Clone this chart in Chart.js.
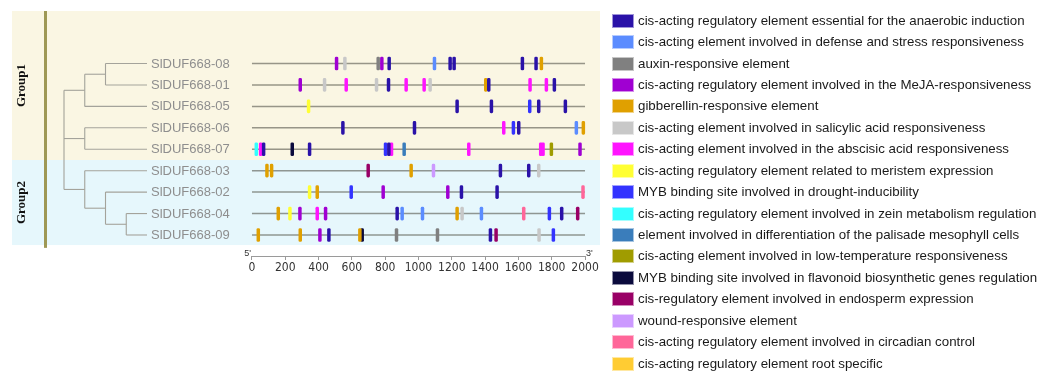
<!DOCTYPE html>
<html>
<head>
<meta charset="utf-8">
<script src="https://cdn.jsdelivr.net/npm/chart.js@4/dist/chart.umd.min.js"></script>
<style>
  html, body { margin: 0; padding: 0; background: #ffffff; }
  #wrap { position: relative; width: 1053px; height: 371px; overflow: hidden; }
  #c { position: absolute; left: 0; top: 0; }
  #legend { position: absolute; left: 612px; top: 0; font: 13.3px "Liberation Sans", Arial, sans-serif; color: #1a1a1a; }
  .item { position: absolute; left: 0; height: 14px; white-space: nowrap; }
  .box { position: absolute; left: 0; top: 0; width: 22px; height: 14px; box-sizing: border-box; border: 1px solid rgba(255,255,255,0.55); }
  .txt { position: absolute; left: 26px; top: -1px; line-height: 16px; }
</style>
</head>
<body>
<div id="wrap">
  <canvas id="c" width="1053" height="371"></canvas>
  <div id="legend"></div>
</div>
<script>
// Genes, top to bottom in tree order
const genes = ['SlDUF668-08', 'SlDUF668-01', 'SlDUF668-05', 'SlDUF668-06', 'SlDUF668-07',
               'SlDUF668-03', 'SlDUF668-02', 'SlDUF668-04', 'SlDUF668-09'];

// Tree topology over gene indices
const treeTopology = [[[0, 1], 2], [3, 4], [5, [6, [7, 8]]]];

// Clades: label, first and last gene index
const groupNames = ['Group1', 'Group2'];
const groupFirst = [0, 5];
const groupLast = [4, 8];

// Cis-acting element types and their colours
const elementTypes = [
  'cis-acting regulatory element essential for the anaerobic induction',
  'cis-acting element involved in defense and stress responsiveness',
  'auxin-responsive element',
  'cis-acting regulatory element involved in the MeJA-responsiveness',
  'gibberellin-responsive element',
  'cis-acting element involved in salicylic acid responsiveness',
  'cis-acting element involved in the abscisic acid responsiveness',
  'cis-acting regulatory element related to meristem expression',
  'MYB binding site involved in drought-inducibility',
  'cis-acting regulatory element involved in zein metabolism regulation',
  'element involved in differentiation of the palisade mesophyll cells',
  'cis-acting element involved in low-temperature responsiveness',
  'MYB binding site involved in flavonoid biosynthetic genes regulation',
  'cis-regulatory element involved in endosperm expression',
  'wound-responsive element',
  'cis-acting regulatory element involved in circadian control',
  'cis-acting regulatory element root specific'
];
const typeColors = [
  '#2a12a8', '#5b8cff', '#808080', '#a000d2', '#e0a000', '#c8c8c8', '#ff14ff', '#ffff33',
  '#3333ff', '#33ffff', '#3a7dbb', '#a09c00', '#0a0a3c', '#990066', '#cc99ff', '#ff6699', '#ffcc33'
];

// Promoter sites per gene: [position (bp from 5'), element type index]
const sites08 = [[508,3],[558,5],[758,2],[780,3],[824,0],[1096,1],[1190,0],[1214,0],[1624,0],[1706,0],[1738,4]];
const sites01 = [[290,3],[436,5],[566,6],[748,5],[820,0],[926,6],[1034,6],[1070,5],[1404,4],[1422,0],[1670,6],[1768,6],[1816,0]];
const sites05 = [[340,7],[1232,0],[1438,0],[1668,8],[1722,0],[1882,0]];
const sites06 = [[546,0],[976,0],[1512,6],[1570,8],[1602,0],[1948,1],[1990,4]];
const sites07 = [[26,9],[52,6],[70,0],[242,12],[346,0],[802,8],[822,0],[838,6],[914,10],[1302,6],[1734,6],[1748,6],[1798,11],[1970,3]];
const sites03 = [[90,4],[118,4],[698,13],[956,4],[1090,14],[1492,0],[1662,0],[1722,5]];
const sites02 = [[346,7],[392,4],[596,8],[788,3],[1176,3],[1258,0],[1472,0],[1988,15]];
const sites04 = [[158,4],[228,7],[288,3],[392,6],[442,3],[872,0],[902,1],[1024,1],[1232,4],[1262,5],[1378,1],[1632,15],[1786,8],[1860,0],[1956,13]];
const sites09 = [[38,4],[290,4],[408,3],[462,0],[648,4],[662,12],[868,2],[1114,2],[1432,0],[1466,13],[1724,5],[1810,8]];
const geneSites = [sites08, sites01, sites05, sites06, sites07, sites03, sites02, sites04, sites09];

// Promoter axis
const seqLength = 2000;
const axisTicks = [0, 200, 400, 600, 800, 1000, 1200, 1400, 1600, 1800, 2000];

// ---- drawing constants ----
const MARK_HALF = 8.5;         // half width of a site mark, in bp
const LEAF_DEPTH = 4;          // depth at which tree leaves end
const FONT = '"Liberation Sans", Arial, sans-serif';

// Tree segments: vertical joins and horizontal branches (depth, row index)
const treeSegments = [];
function layoutNode(node, depth) {
  if (typeof node === 'number') return { y: node, d: LEAF_DEPTH };
  const kids = node.map(n => layoutNode(n, depth + 1));
  const ys = kids.map(k => k.y);
  const lo = Math.min(...ys), hi = Math.max(...ys);
  treeSegments.push([[depth, lo], [depth, hi]]);
  kids.forEach(k => treeSegments.push([[depth, k.y], [k.d, k.y]]));
  return { y: (lo + hi) / 2, d: depth };
}
layoutNode(treeTopology, 0);

const datasets = [];

// Site marks, one dataset per element type
elementTypes.forEach((label, t) => {
  const data = [];
  geneSites.forEach((list, g) => {
    list.forEach(([pos, type]) => {
      if (type === t) data.push({ x: [pos - MARK_HALF, pos + MARK_HALF], y: g });
    });
  });
  datasets.push({
    type: 'bar', label, data,
    backgroundColor: typeColors[t],
    borderWidth: 0, borderRadius: 6, borderSkipped: false,
    barThickness: 13, grouped: false, indexAxis: 'y',
    xAxisID: 'x', yAxisID: 'y', order: 1
  });
});

// Promoter lines
genes.forEach((name, g) => {
  datasets.push({
    type: 'line', label: name,
    data: [{ x: 0, y: g }, { x: seqLength, y: g }],
    borderColor: 'rgba(85,85,75,0.6)', borderWidth: 1.5,
    pointRadius: 0, xAxisID: 'x', yAxisID: 'y', order: 20
  });
});

// Tree branches
treeSegments.forEach(seg => {
  datasets.push({
    type: 'line', label: '',
    data: seg.map(([d, y]) => ({ x: d, y })),
    borderColor: '#a4a39b', borderWidth: 1.1,
    pointRadius: 0, xAxisID: 'xt', yAxisID: 'y', order: 20
  });
});

// Clade background bands, side bar, labels and axis details
const decor = {
  id: 'decor',
  beforeDatasetsDraw(chart) {
    const { ctx, chartArea: a, scales } = chart;
    const ys = scales.y;
    const bandColors = ['#faf6e3', '#e6f7fc'];
    ctx.save();
    groupNames.forEach((name, i) => {
      const top = ys.getPixelForValue(groupFirst[i] - (i === 0 ? 2.45 : 0.5));
      const bot = ys.getPixelForValue(groupLast[i] + (i === 0 ? 0.5 : 0.47));
      ctx.fillStyle = bandColors[i];
      ctx.fillRect(a.left, top, a.right - a.left, bot - top);
      // rotated clade label
      ctx.save();
      ctx.translate(a.left + 10, (top + bot) / 2);
      ctx.rotate(-Math.PI / 2);
      ctx.fillStyle = '#111';
      ctx.font = 'bold 13px "Liberation Serif", "Times New Roman", serif';
      ctx.textAlign = 'center';
      ctx.textBaseline = 'middle';
      ctx.fillText(name, 0, 0);
      ctx.restore();
    });
    // olive side bar
    ctx.fillStyle = '#9e9855';
    ctx.fillRect(a.left + 32, a.top, 3, ys.getPixelForValue(8.6) - a.top);
    ctx.restore();
  },
  afterDatasetsDraw(chart) {
    const { ctx, chartArea: a, scales } = chart;
    const xs = scales.x, xt = scales.xt, ys = scales.y;
    ctx.save();
    // gene names at the tree leaves
    ctx.font = '13px ' + FONT;
    ctx.fillStyle = '#8e8e8e';
    ctx.textAlign = 'left';
    ctx.textBaseline = 'middle';
    genes.forEach((name, g) => {
      ctx.fillText(name, xt.getPixelForValue(LEAF_DEPTH) + 4, ys.getPixelForValue(g) + 0.5);
    });
    // axis baseline from 5' to 3'
    const x0 = xs.getPixelForValue(0), x1 = xs.getPixelForValue(seqLength);
    const yb = a.bottom + 0.5;
    ctx.strokeStyle = '#9a9a9a';
    ctx.lineWidth = 1;
    ctx.beginPath();
    ctx.moveTo(x0, yb); ctx.lineTo(x1, yb);
    ctx.stroke();
    ctx.fillStyle = '#333';
    ctx.font = '9px ' + FONT;
    ctx.textBaseline = 'alphabetic';
    ctx.textAlign = 'right';
    ctx.fillText("5'", x0 - 1, yb - 1);
    ctx.textAlign = 'left';
    ctx.fillText("3'", x1 + 1, yb - 1);
    ctx.restore();
  }
};

new Chart(document.getElementById('c'), {
  type: 'bar',
  data: { datasets },
  options: {
    responsive: false,
    animation: false,
    events: [],
    indexAxis: 'y',
    layout: { padding: { left: 12, right: 453, top: 11, bottom: 95 } },
    plugins: { legend: { display: false }, tooltip: { enabled: false } },
    scales: {
      x: {
        type: 'linear', position: 'bottom', offset: false,
        min: -1441, max: 2090,
        afterBuildTicks: s => { s.ticks = axisTicks.map(v => ({ value: v })); },
        afterFit: s => { s.height = 20; },
        border: { display: false },
        grid: { drawOnChartArea: false, drawTicks: true, tickLength: 4, color: '#9a9a9a', lineWidth: 1, offset: false },
        ticks: {
          autoSkip: false, maxRotation: 0, padding: 1, color: '#333',
          callback: v => String(v),
          font: { family: '"Liberation Sans Narrow", "DejaVu Sans Condensed", Arial, sans-serif', size: 12 }
        }
      },
      xt: { type: 'linear', display: false, offset: false, min: -2.506, max: 25.83 },
      y: { type: 'linear', display: false, offset: false, reverse: true, min: -2.45, max: 8.98, grid: { offset: false } }
    }
  },
  plugins: [decor]
});

// Legend list
const legend = document.getElementById('legend');
elementTypes.forEach((label, t) => {
  const item = document.createElement('div');
  item.className = 'item';
  item.style.top = (13.7 + t * 21.43) + 'px';
  const box = document.createElement('div');
  box.className = 'box';
  box.style.background = typeColors[t];
  const txt = document.createElement('div');
  txt.className = 'txt';
  txt.textContent = label;
  item.appendChild(box);
  item.appendChild(txt);
  legend.appendChild(item);
});
</script>
</body>
</html>
